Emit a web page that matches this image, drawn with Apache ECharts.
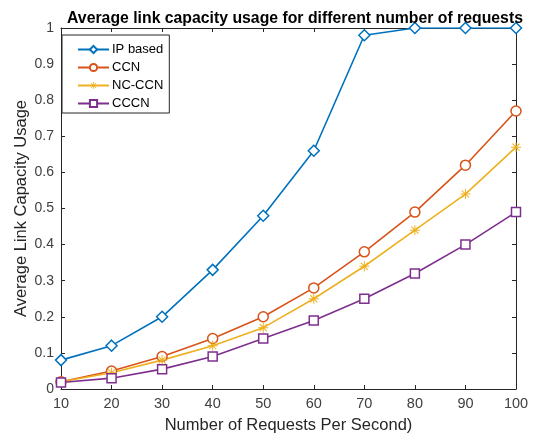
<!DOCTYPE html>
<html><head><meta charset="utf-8">
<script src="https://cdn.jsdelivr.net/npm/echarts@6/dist/echarts.min.js"></script>
<style>html,body{margin:0;padding:0;background:#fff}#c{width:537px;height:438px}</style>
</head><body><div id="c"></div>
<script>
const categories = [10, 20, 30, 40, 50, 60, 70, 80, 90, 100];
const ipBased = [0.08, 0.12, 0.20, 0.33, 0.48, 0.66, 0.98, 1.00, 1.00, 1.00];
const ccn     = [0.02, 0.05, 0.09, 0.14, 0.20, 0.28, 0.38, 0.49, 0.62, 0.77];
const ncCcn   = [0.02, 0.045, 0.08, 0.12, 0.17, 0.25, 0.34, 0.44, 0.54, 0.67];
const cccn    = [0.018, 0.03, 0.055, 0.09, 0.14, 0.19, 0.25, 0.32, 0.40, 0.49];
const seriesNames = ['IP based', 'CCN', 'NC-CCN', 'CCCN'];
const colors = ['#0072BD', '#D95319', '#EDB120', '#7E2F8E'];

const asterisk = 'path://M9,0 L11,0 L11,20 L9,20 Z M0,9 L20,9 L20,11 L0,11 Z M2.2,3.6 L3.6,2.2 L17.8,16.4 L16.4,17.8 Z M16.4,2.2 L17.8,3.6 L3.6,17.8 L2.2,16.4 Z';
const pairs = (arr) => categories.map((x, i) => [x, arr[i]]);
const axisCol = '#262626';
const labCol = '#404040';
const font = 'Liberation Sans, Arial, sans-serif';

function mk(name, data, color, symbol, size, filled) {
  return {
    name, type: 'line', data: pairs(data), symbol, symbolSize: size,
    showAllSymbol: true,
    lineStyle: { color, width: 1.6 },
    itemStyle: filled ? { color } : { color: '#fff', borderColor: color, borderWidth: 1.5 },
    emphasis: { disabled: true }
  };
}

const chart = echarts.init(document.getElementById('c'));
chart.setOption({
  animation: false,
  backgroundColor: '#fff',
  title: {
    text: 'Average link capacity usage for different number of requests',
    left: 290, top: 6, textAlign: 'center',
    textStyle: { fontFamily: font, fontSize: 15.8, fontWeight: 'bold', color: '#000' }
  },
  legend: {
    orient: 'vertical', left: 62, top: 35,
    itemWidth: 31, itemHeight: 9, itemGap: 5,
    padding: [8, 6, 3, 15],
    borderColor: '#262626', borderWidth: 1, backgroundColor: '#fff',
    textStyle: { fontFamily: font, fontSize: 13, color: '#000', padding: [0, 0, 0, -2] },
    data: seriesNames
  },
  grid: { left: 61, right: 21, top: 28, bottom: 49, outerBoundsMode: 'none', containLabel: false },
  xAxis: [{
    type: 'value', min: 10, max: 100, interval: 10,
    name: 'Number of Requests Per Second)', nameLocation: 'middle', nameGap: 28,
    nameMoveOverlap: false,
    nameTextStyle: { fontFamily: font, fontSize: 16.5, color: '#262626' },
    axisLine: { lineStyle: { color: axisCol } },
    axisTick: { inside: true, length: 4, lineStyle: { color: axisCol } },
    axisLabel: { fontFamily: font, fontSize: 14.5, color: labCol, margin: 7 },
    splitLine: { show: false }
  }, {
    type: 'value', position: 'top', min: 10, max: 100, interval: 10,
    axisLine: { show: true, onZero: false, lineStyle: { color: axisCol } },
    axisTick: { inside: true, length: 4, lineStyle: { color: axisCol } },
    axisLabel: { show: false }, splitLine: { show: false }
  }],
  yAxis: [{
    type: 'value', min: 0, max: 1, interval: 0.1,
    name: 'Average Link Capacity Usage', nameLocation: 'middle', nameGap: 31,
    nameMoveOverlap: false,
    nameTextStyle: { fontFamily: font, fontSize: 16.5, color: '#262626' },
    axisLine: { show: true, lineStyle: { color: axisCol } },
    axisTick: { show: true, inside: true, length: 4, lineStyle: { color: axisCol } },
    axisLabel: { fontFamily: font, fontSize: 14, color: labCol, margin: 7,
      formatter: v => (Math.round(v * 10) / 10).toString() },
    splitLine: { show: false }
  }, {
    type: 'value', position: 'right', min: 0, max: 1, interval: 0.1,
    axisLine: { show: true, onZero: false, lineStyle: { color: axisCol } },
    axisTick: { show: true, inside: true, length: 4, lineStyle: { color: axisCol } },
    axisLabel: { show: false }, splitLine: { show: false }
  }],
  series: [
    mk(seriesNames[0], ipBased, colors[0], 'diamond', 11, false),
    mk(seriesNames[1], ccn, colors[1], 'circle', 10, false),
    mk(seriesNames[2], ncCcn, colors[2], asterisk, 10, true),
    mk(seriesNames[3], cccn, colors[3], 'rect', 9, false)
  ]
});
</script></body></html>
